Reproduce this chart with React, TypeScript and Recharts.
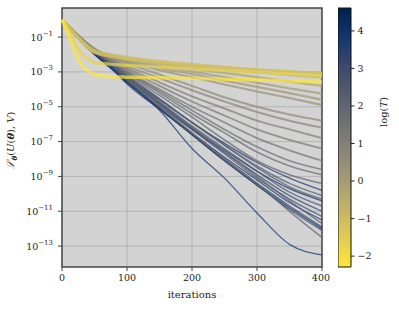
import { LineChart, Line, XAxis, YAxis, CartesianGrid, ReferenceArea } from "recharts"

const ITERS = [0, 10, 25, 50, 75, 100, 150, 200, 250, 300, 350, 400]

// log(T) of each run (colour)
const LOG_T = [
  -2.2, -1.7, -1.2, -0.9, -0.6, -0.3, 0.0, 0.2, 0.4, 0.6, 0.8, 1.0, 1.2, 1.4, 1.6, 1.75,
  2.0, 3.8, 2.3, 4.2, 2.6, 3.3, 2.9, 4.0, 2.2, 3.6, 3.1, 1.9, 4.4, 2.7, 3.9,
]

// log10 of the loss for each run, one value per ITERS entry
const LOSS = [
  [0.0, -0.9, -2.3, -3.15, -3.28, -3.3, -3.33, -3.37, -3.42, -3.47, -3.52, -3.58],
  [0.0, -0.6, -1.7, -2.45, -2.56, -2.62, -2.72, -2.82, -2.92, -3.02, -3.12, -3.22],
  [0.0, -0.4, -1.05, -1.9, -2.1, -2.25, -2.45, -2.6, -2.75, -2.88, -2.98, -3.08],
  [0.0, -0.38, -1.0, -1.8, -2.0, -2.15, -2.38, -2.56, -2.72, -2.86, -2.98, -3.1],
  [0.0, -0.4, -1.05, -1.85, -2.06, -2.22, -2.47, -2.67, -2.86, -3.02, -3.17, -3.3],
  [0.0, -0.38, -1.0, -1.75, -2.02, -2.22, -2.52, -2.8, -3.06, -3.3, -3.55, -3.8],
  [0.0, -0.4, -1.02, -1.78, -2.06, -2.3, -2.66, -2.98, -3.3, -3.62, -3.95, -4.25],
  [0.0, -0.38, -1.0, -1.8, -2.12, -2.38, -2.78, -3.12, -3.5, -3.86, -4.22, -4.6],
  [0.0, -0.4, -1.05, -1.82, -2.18, -2.45, -2.9, -3.3, -3.72, -4.12, -4.5, -4.9],
  [0.0, -0.35, -0.9, -1.65, -2.15, -2.5, -3.15, -3.8, -4.45, -5.0, -5.45, -5.8],
  [0.0, -0.36, -0.92, -1.7, -2.22, -2.65, -3.35, -4.05, -4.7, -5.3, -5.8, -6.2],
  [0.0, -0.35, -0.9, -1.7, -2.25, -2.75, -3.6, -4.4, -5.1, -5.8, -6.3, -6.8],
  [0.0, -0.37, -0.95, -1.72, -2.3, -2.85, -3.8, -4.7, -5.5, -6.3, -6.9, -7.4],
  [0.0, -0.36, -0.92, -1.74, -2.35, -2.95, -4.0, -5.0, -5.9, -6.8, -7.5, -8.1],
  [0.0, -0.38, -0.96, -1.76, -2.4, -3.0, -4.1, -5.2, -6.3, -7.3, -8.1, -8.6],
  [0.0, -0.38, -0.98, -1.8, -2.45, -3.05, -4.2, -5.4, -6.5, -7.6, -8.4, -8.9],
  [0.0, -0.37, -0.95, -1.75, -2.4, -3.1, -4.35, -5.6, -6.9, -8.1, -8.9, -9.4],
  [0.0, -0.4, -1.0, -1.85, -2.55, -3.3, -4.6, -5.9, -7.1, -8.2, -9.1, -9.8],
  [0.0, -0.38, -0.97, -1.78, -2.45, -3.2, -4.55, -5.9, -7.2, -8.4, -9.4, -10.1],
  [0.0, -0.42, -1.02, -1.9, -2.6, -3.4, -4.8, -6.2, -7.5, -8.7, -9.7, -10.4],
  [0.0, -0.39, -0.98, -1.8, -2.5, -3.3, -4.7, -6.1, -7.4, -8.7, -9.9, -10.7],
  [0.0, -0.4, -1.0, -1.88, -2.62, -3.5, -4.95, -6.3, -7.6, -8.9, -10.1, -11.0],
  [0.0, -0.4, -0.99, -1.85, -2.58, -3.4, -4.85, -6.3, -7.7, -9.1, -10.3, -11.3],
  [0.0, -0.43, -1.05, -1.95, -2.7, -3.6, -5.1, -6.5, -7.9, -9.2, -10.5, -11.5],
  [0.0, -0.38, -0.96, -1.8, -2.52, -3.3, -4.75, -6.2, -7.6, -9.0, -10.4, -11.7],
  [0.0, -0.43, -1.06, -1.97, -2.75, -3.7, -5.15, -6.6, -8.0, -9.4, -10.7, -11.9],
  [0.0, -0.41, -1.02, -1.9, -2.65, -3.5, -5.05, -6.6, -8.1, -9.5, -10.9, -12.1],
  [0.0, -0.37, -0.95, -1.78, -2.5, -3.4, -4.95, -6.5, -8.0, -9.4, -11.0, -12.5],
  [0.0, -0.44, -1.08, -2.0, -2.75, -3.6, -5.1, -6.6, -8.1, -9.5, -10.8, -12.0],
  [0.0, -0.39, -0.98, -1.82, -2.5, -3.2, -4.55, -5.9, -7.2, -8.5, -9.6, -10.3],
  [0.0, -0.42, -1.05, -2.0, -2.8, -3.6, -5.2, -7.4, -9.1, -11.1, -12.9, -13.5],
]

const X_TICKS = [0, 100, 200, 300, 400]
const Y_TICKS = [-13, -11, -9, -7, -5, -3, -1]
const CBAR_TICKS = [-2, -1, 0, 1, 2, 3, 4]
const T_MIN = -2.29
const T_MAX = 4.61

const CIVIDIS = [
  "#00224e", "#123570", "#3b496c", "#575d6d", "#707173",
  "#8a8678", "#a59c74", "#c3b369", "#e1cc55", "#fee838",
]

const FONT = "DejaVu Serif"
const INK = "#222"

function hexRgb(h: string) {
  return [1, 3, 5].map((i) => parseInt(h.slice(i, i + 2), 16))
}

// reversed cividis: low T -> yellow, high T -> navy
function tempColor(t: number) {
  const frac = Math.min(1, Math.max(0, (t - T_MIN) / (T_MAX - T_MIN)))
  const u = (1 - frac) * (CIVIDIS.length - 1)
  const i = Math.min(Math.floor(u), CIVIDIS.length - 2)
  const f = u - i
  const a = hexRgb(CIVIDIS[i])
  const b = hexRgb(CIVIDIS[i + 1])
  const c = a.map((v, k) => Math.round(v + (b[k] - v) * f))
  return `rgb(${c[0]},${c[1]},${c[2]})`
}

function tempWidth(t: number) {
  const r = (T_MAX - t) / (T_MAX - T_MIN)
  return 1.25 + 2.3 * r * r
}

const rows = ITERS.map((it, i) => {
  const row: Record<string, number> = { it }
  LOSS.forEach((s, k) => {
    row["s" + k] = s[i]
  })
  return row
})

// hottest first so the cold (yellow) runs end up on top
const order = LOG_T.map((_, k) => k).sort((a, b) => LOG_T[b] - LOG_T[a])

function PowTick(props: any) {
  const { x, y, payload } = props
  const e = payload.value
  return (
    <text x={x} y={y} textAnchor="end" style={{ fontFamily: FONT }} fontSize={9.5} fill={INK}>
      <tspan dy={3.5}>10</tspan>
      <tspan dy={-5} fontSize={7}>
        {(e < 0 ? "\u2212" : "") + Math.abs(e)}
      </tspan>
    </text>
  )
}

const minusFmt = (v: number) => (v < 0 ? "\u2212" + Math.abs(v) : String(v))

const colorbarData = [{ x: 0 }, { x: 1 }]

const labelStyle = {
  position: "absolute" as const,
  whiteSpace: "nowrap" as const,
  fontFamily: FONT,
  fontSize: 10,
  color: INK,
  lineHeight: 1,
}

const tickStyle = { fontFamily: FONT, fontSize: 9.5, fill: INK, style: { fontFamily: FONT } }

export default function App() {
  return (
    <div style={{ position: "absolute", left: 0, top: 0, width: 399, height: 309, background: "#fff", fontFamily: FONT }}>
      <svg width={0} height={0} style={{ position: "absolute" }}>
        <defs>
          <linearGradient id="cbarGrad" x1="0" y1="1" x2="0" y2="0">
            {CIVIDIS.map((_, k) => (
              <stop key={k} offset={k / (CIVIDIS.length - 1)} stopColor={CIVIDIS[CIVIDIS.length - 1 - k]} />
            ))}
          </linearGradient>
        </defs>
      </svg>

      {/* main loss curves */}
      <div style={{ position: "absolute", left: 0, top: 0 }}>
        <LineChart width={330} height={309} data={rows} margin={{ top: 8, right: 8, bottom: 12, left: 0 }}>
          <CartesianGrid
            stroke="#b3b3b3"
            strokeWidth={1}
            fill="#d3d3d3"
            fillOpacity={1}
            verticalValues={X_TICKS}
            horizontalValues={Y_TICKS}
          />
          <XAxis
            dataKey="it"
            type="number"
            domain={[0, 400]}
            ticks={X_TICKS}
            height={30}
            axisLine={false}
            tickLine={{ stroke: "#444" }}
            tickSize={4}
            tickMargin={3}
            tick={tickStyle}
          />
          <YAxis
            type="number"
            domain={[-14.2, 0.67]}
            ticks={Y_TICKS}
            width={62}
            axisLine={false}
            tickLine={{ stroke: "#444" }}
            tickSize={4}
            tickMargin={5}
            tick={<PowTick />}
            allowDataOverflow
          />
          {order.map((k) => (
            <Line
              key={k}
              dataKey={"s" + k}
              type="monotone"
              stroke={tempColor(LOG_T[k])}
              strokeWidth={tempWidth(LOG_T[k])}
              strokeOpacity={0.72}
              dot={false}
              activeDot={false}
              isAnimationActive={false}
            />
          ))}
          <ReferenceArea
            x1={0}
            x2={400}
            y1={-14.2}
            y2={0.67}
            fill="none"
            fillOpacity={0}
            stroke="#444"
            strokeWidth={1.4}
            strokeOpacity={1}
            ifOverflow="visible"
          />
        </LineChart>
      </div>

      {/* colorbar */}
      <div style={{ position: "absolute", left: 338, top: 0 }}>
        <LineChart width={61} height={309} data={colorbarData} margin={{ top: 8, right: 0, bottom: 42, left: 0 }}>
          <XAxis dataKey="x" type="number" domain={[0, 1]} hide />
          <YAxis
            orientation="right"
            type="number"
            domain={[T_MIN, T_MAX]}
            ticks={CBAR_TICKS}
            width={48}
            axisLine={false}
            tickLine={{ stroke: "#222" }}
            tickSize={3.5}
            tickMargin={3}
            tickFormatter={minusFmt}
            tick={tickStyle}
            allowDataOverflow
          />
          <ReferenceArea
            x1={0}
            x2={1}
            y1={T_MIN}
            y2={T_MAX}
            fill="url(#cbarGrad)"
            fillOpacity={1}
            stroke="#111"
            strokeWidth={1}
            ifOverflow="visible"
          />
        </LineChart>
      </div>

      {/* axis labels */}
      <div style={{ ...labelStyle, left: 12, top: 140, transform: "translate(-50%, -50%) rotate(-90deg)" }}>
        <span style={{ fontStyle: "italic" }}>ℒ</span>
        <sub style={{ fontSize: 7, fontStyle: "italic", fontWeight: "bold" }}>θ</sub>(<i>U</i>(<b><i>θ</i></b>), <i>V</i>)
      </div>
      <div style={{ ...labelStyle, left: 192, top: 295, transform: "translate(-50%, -50%)" }}>iterations</div>
      <div style={{ ...labelStyle, left: 384, top: 112, transform: "translate(-50%, -50%) rotate(-90deg)" }}>
        log(<i>T</i>)
      </div>
    </div>
  )
}
